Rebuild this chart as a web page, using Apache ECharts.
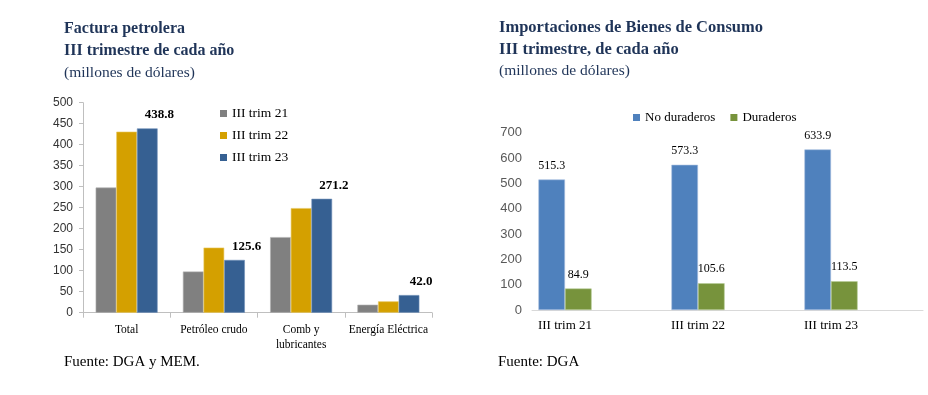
<!DOCTYPE html>
<html><head><meta charset="utf-8">
<script src="https://cdn.jsdelivr.net/npm/echarts@6/dist/echarts.min.js"></script>
<style>html,body{margin:0;padding:0;background:#fff}#c{width:928px;height:395px}</style>
</head><body><div id="c"></div>
<script>
// Left chart data
var leftCategories = ['Total', 'Petróleo crudo', 'Comb y\nlubricantes', 'Energía Eléctrica'];
var trim21 = [298, 98, 180, 19];
var trim22 = [431, 155, 249, 27];
var trim23 = [438.8, 125.6, 271.2, 42.0];
var leftSeriesNames = ['III trim 21', 'III trim 22', 'III trim 23'];
var leftTicks = [0, 500, 50];

// Right chart data
var rightCategories = ['III trim 21', 'III trim 22', 'III trim 23'];
var noDuraderos = [515.3, 573.3, 633.9];
var duraderos = [84.9, 105.6, 113.5];
var rightSeriesNames = ['No duraderos', 'Duraderos'];
var rightTicks = [0, 700, 100];

var serif = '"Liberation Serif", "DejaVu Serif", serif';
var sans = '"Liberation Sans", Arial, sans-serif';
var navy = '#1F3458';

var chart = echarts.init(document.getElementById('c'), null, {renderer: 'canvas'});

function titleLine(text, left, top, bold, size) {
  return {text: text, left: left, top: top, padding: 0,
    textStyle: {fontFamily: serif, fontSize: size, fontWeight: bold ? 'bold' : 'normal', color: navy}};
}

var option = {
  animation: false,
  title: [
    titleLine('Factura petrolera', 64, 21, true, 16),
    titleLine('III trimestre de cada año', 64, 43, true, 16),
    titleLine('(millones de dólares)', 64, 65, false, 15.5),
    titleLine('Importaciones de Bienes de Consumo', 499, 19, true, 16.5),
    titleLine('III trimestre, de cada año', 499, 41, true, 16.5),
    titleLine('(millones de dólares)', 499, 63, false, 15.5),
    {text: 'Fuente: DGA y MEM.', left: 64, top: 355, padding: 0,
      textStyle: {fontFamily: serif, fontSize: 15, fontWeight: 'normal', color: '#000'}},
    {text: 'Fuente: DGA', left: 498, top: 355, padding: 0,
      textStyle: {fontFamily: serif, fontSize: 15, fontWeight: 'normal', color: '#000'}}
  ],
  legend: [
    {data: leftSeriesNames, orient: 'vertical', left: 220, top: 106.5,
      itemWidth: 7, itemHeight: 7, itemGap: 8, icon: 'rect', padding: 0,
      itemStyle: {borderWidth: 0},
      textStyle: {fontFamily: serif, fontSize: 13.5, color: '#000'}},
    {data: rightSeriesNames, orient: 'horizontal', left: 633, top: 111,
      itemWidth: 7, itemHeight: 7, itemGap: 15, icon: 'rect', padding: 0,
      itemStyle: {borderWidth: 0},
      textStyle: {fontFamily: serif, fontSize: 13, color: '#000'}}
  ],
  grid: [
    {left: 83, top: 102.7, width: 349, height: 210},
    {left: 498.5, top: 132.7, width: 399, height: 177.3},
    {left: 532, top: 132.7, width: 391, height: 177.3}
  ],
  xAxis: [
    {gridIndex: 0, type: 'category', data: leftCategories,
      axisLine: {lineStyle: {color: '#bfbfbf'}},
      axisTick: {show: true, length: 5, lineStyle: {color: '#bfbfbf'}},
      axisLabel: {fontFamily: serif, fontSize: 11.5, color: '#000', margin: 10, lineHeight: 15, interval: 0}},
    {gridIndex: 1, type: 'category', data: rightCategories,
      axisLine: {show: false}, axisTick: {show: false},
      axisLabel: {fontFamily: serif, fontSize: 13, color: '#000', margin: 9}},
    {gridIndex: 2, type: 'category', data: [''],
      axisLine: {show: true, lineStyle: {color: '#d9d9d9'}}, axisTick: {show: false},
      axisLabel: {show: false}}
  ],
  yAxis: [
    {gridIndex: 0, type: 'value', min: leftTicks[0], max: leftTicks[1], interval: leftTicks[2],
      axisLine: {show: true, lineStyle: {color: '#bfbfbf'}},
      axisTick: {show: true, length: 4, lineStyle: {color: '#bfbfbf'}},
      splitLine: {show: false},
      axisLabel: {fontFamily: sans, fontSize: 12, color: '#333', margin: 10}},
    {gridIndex: 1, type: 'value', min: rightTicks[0], max: rightTicks[1], interval: rightTicks[2], show: false,
      splitLine: {show: false}},
    {gridIndex: 2, type: 'value', min: rightTicks[0], max: rightTicks[1], interval: rightTicks[2],
      axisLine: {show: false}, axisTick: {show: false}, splitLine: {show: false},
      axisLabel: {fontFamily: sans, fontSize: 13, color: '#595959', margin: 10}}
  ],
  series: [
    {name: leftSeriesNames[0], type: 'bar', xAxisIndex: 0, yAxisIndex: 0, data: trim21,
      barGap: '0%', barCategoryGap: '29%',
      itemStyle: {color: '#808080', borderColor: '#b0b0b0', borderWidth: 0.6}},
    {name: leftSeriesNames[1], type: 'bar', xAxisIndex: 0, yAxisIndex: 0, data: trim22,
      barGap: '0%', barCategoryGap: '29%',
      itemStyle: {color: '#D4A000', borderColor: '#e8c860', borderWidth: 0.6}},
    {name: leftSeriesNames[2], type: 'bar', xAxisIndex: 0, yAxisIndex: 0, data: trim23,
      barGap: '0%', barCategoryGap: '29%',
      itemStyle: {color: '#366092', borderColor: '#7090b8', borderWidth: 0.6},
      label: {show: true, position: 'top', distance: 7, offset: [12, 0],
        fontFamily: serif, fontSize: 13, fontWeight: 'bold', color: '#000',
        formatter: function (p) { return p.value.toFixed(1); }}},
    {name: rightSeriesNames[0], type: 'bar', xAxisIndex: 1, yAxisIndex: 1, data: noDuraderos,
      barGap: '0%', barCategoryGap: '60%',
      itemStyle: {color: '#4F81BD', borderColor: '#a8c0e0', borderWidth: 0.6},
      label: {show: true, position: 'top', distance: 8, fontFamily: serif, fontSize: 12, color: '#000',
        formatter: function (p) { return p.value.toFixed(1); }}},
    {name: rightSeriesNames[1], type: 'bar', xAxisIndex: 1, yAxisIndex: 1, data: duraderos,
      barGap: '0%', barCategoryGap: '60%',
      itemStyle: {color: '#77933C', borderColor: '#b0c890', borderWidth: 0.6},
      label: {show: true, position: 'top', distance: 8, fontFamily: serif, fontSize: 12, color: '#000',
        formatter: function (p) { return p.value.toFixed(1); }}}
  ]
};
chart.setOption(option);
</script>
</body></html>
